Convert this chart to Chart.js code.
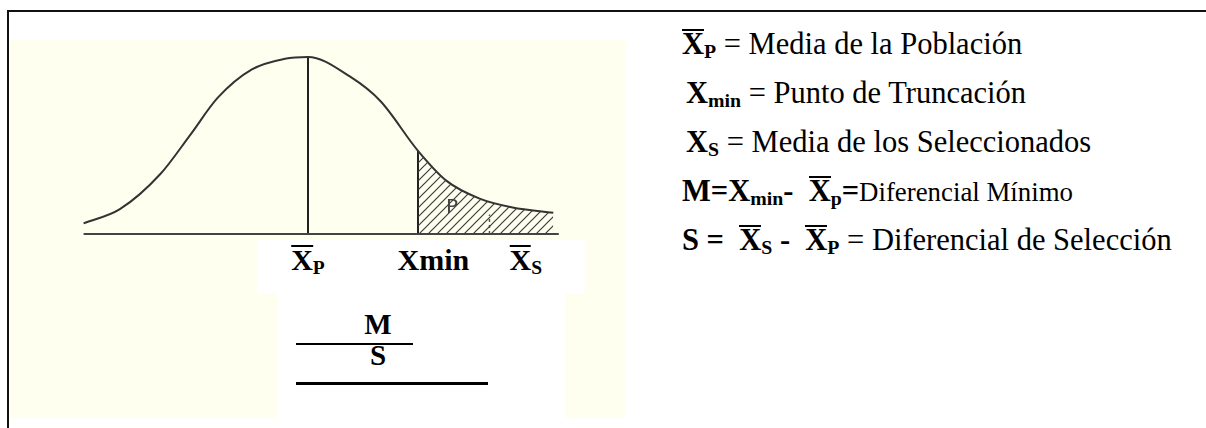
<!DOCTYPE html>
<html>
<head>
<meta charset="utf-8">
<script src="https://cdn.jsdelivr.net/npm/chart.js@4.4.1/dist/chart.umd.min.js"></script>
<style>
  body { margin: 0; width: 1206px; height: 428px; overflow: hidden; position: relative; background: #fff;
         font-family: "Liberation Serif", "DejaVu Serif", serif; color: #000; }
  #frame { position: absolute; left: 7px; top: 10px; width: 1210px; height: 430px;
           border-top: 2px solid #111; border-left: 2px solid #111; }
  #photo { position: absolute; left: 10px; top: 40px; width: 615px; height: 378px; background: #fffff0; }
  #plot { position: absolute; left: 10px; top: 40px; width: 615px; height: 378px; }
  .wb { position: absolute; background: #fff; }
  .lbl { position: absolute; font-weight: bold; font-size: 30px; white-space: nowrap; transform: translateX(-50%); }
  .row { position: absolute; left: 682px; font-size: 30.5px; white-space: nowrap; }
  .ov { display: inline-block; line-height: 0.75em; border-top: 2px solid #000; padding-top: 2px; }
  .sb { font-size: 0.65em; vertical-align: -0.2em; }
  .sm { font-size: 0.88em; }
  .frac { position: absolute; font-weight: bold; font-size: 29px; transform: translateX(-50%); }
  .rule { position: absolute; background: #000; }
</style>
</head>
<body>
<div id="frame"></div>
<div id="photo"></div>
<div id="plot"><canvas id="curve" width="615" height="378"></canvas></div>

<div class="wb" style="left:257px;top:240px;width:328px;height:53px"></div>
<div class="wb" style="left:277px;top:293px;width:288px;height:125px"></div>
<div id="labels"></div>

<div class="frac" style="left:378px;top:308px">M</div>
<div class="rule" style="left:296px;top:343px;width:117px;height:2px"></div>
<div class="frac" style="left:378px;top:339px">S</div>
<div class="rule" style="left:296px;top:382px;width:192px;height:3px"></div>

<div class="row" style="top:27px"><b><span class="ov">X</span><span class="sb">P</span></b> = Media de la Población</div>
<div class="row" style="top:76px;left:686px"><b>X<span class="sb">min</span></b> = Punto de Truncación</div>
<div class="row" style="top:125px;left:686px"><b>X<span class="sb">S</span></b> = Media de los Seleccionados</div>
<div class="row" style="top:174px"><b>M=X<span class="sb">min</span>- &nbsp;<span class="ov">X</span><span class="sb">p</span>=</b><span class="sm">Diferencial Mínimo</span></div>
<div class="row" style="top:223px"><b>S = &nbsp;<span class="ov">X</span><span class="sb">S</span> - &nbsp;<span class="ov">X</span><span class="sb">P</span></b> = Diferencial de Selección</div>

<script>
// curve: x in units of the population sd, y relative to the peak
const curveX = [-2.04, -1.71, -1.34, -1.07, -0.82, -0.51, -0.21, 0, 0.38, 0.66, 1.0, 1.26, 1.56, 1.86, 2.23];
const curveY = [0.06, 0.14, 0.34, 0.56, 0.77, 0.93, 0.99, 1.0, 0.89, 0.75, 0.47, 0.3, 0.2, 0.15, 0.12];
const axisX = [-2.04, 2.28];
const meanX = 0;
const truncX = 1.0;
const truncY = 0.47;
const markX = 1.65;
const markY = 0.11;
const tickAt = [0, 1.14, 1.98];
const tickMain = ['X', 'Xmin', 'X'];
const tickSub = ['P', '', 'S'];
const tickBar = [true, false, true];

function hatch() {
    const c = document.createElement('canvas');
    c.width = 9; c.height = 9;
    const g = c.getContext('2d');
    g.strokeStyle = '#3c3c3c';
    g.lineWidth = 1.2;
    g.beginPath();
    g.moveTo(0, 9); g.lineTo(9, 0);
    g.moveTo(-1, 1); g.lineTo(1, -1);
    g.moveTo(8, 10); g.lineTo(10, 8);
    g.stroke();
    return g.createPattern(c, 'repeat');
}

const pts = curveX.map((x, i) => ({ x: x, y: curveY[i] }));
const tailStart = curveX.indexOf(truncX);

const pLetter = {
    id: 'pLetter',
    afterDatasetsDraw(chart) {
        const ctx = chart.ctx;
        ctx.save();
        ctx.fillStyle = '#444';
        ctx.font = '20px "DejaVu Sans"';
        ctx.textAlign = 'center';
        ctx.textBaseline = 'middle';
        ctx.fillText('P', chart.scales.x.getPixelForValue(1.31), chart.scales.y.getPixelForValue(0.15));
        ctx.restore();
    }
};

const line = (data, extra) => Object.assign({
    data: data, showLine: true, pointRadius: 0, borderColor: '#2e2e2e', borderWidth: 2, fill: false
}, extra);

const chart = new Chart(document.getElementById('curve'), {
    type: 'scatter',
    data: {
        datasets: [
            line(pts.slice(tailStart), { borderWidth: 0, fill: 'origin', backgroundColor: hatch(), cubicInterpolationMode: 'monotone' }),
            line(pts, { cubicInterpolationMode: 'monotone', borderColor: '#333' }),
            line([{ x: axisX[0], y: 0 }, { x: axisX[1], y: 0 }], { borderColor: '#444' }),
            line([{ x: meanX, y: 0 }, { x: meanX, y: 1 }], { borderColor: '#222' }),
            line([{ x: truncX, y: 0 }, { x: truncX, y: truncY }], { borderColor: '#222' }),
            line([{ x: markX, y: 0 }, { x: markX, y: markY }], { borderColor: '#555', borderWidth: 1.5, borderDash: [3, 3] })
        ]
    },
    options: {
        responsive: false,
        animation: false,
        layout: { padding: 0 },
        plugins: { legend: { display: false }, tooltip: { enabled: false } },
        scales: {
            x: { type: 'linear', display: false, min: -2.709, max: 2.882 },
            y: { type: 'linear', display: false, min: -1.04, max: 1.096 }
        }
    },
    plugins: [pLetter]
});

// tick labels under the sketch, placed with the chart's own x scale
const holder = document.getElementById('labels');
tickAt.forEach((v, i) => {
    const d = document.createElement('div');
    d.className = 'lbl';
    d.style.left = (10 + chart.scales.x.getPixelForValue(v)) + 'px';
    d.style.top = '243px';
    const main = tickBar[i] ? '<span class="ov">' + tickMain[i] + '</span>' : tickMain[i];
    d.innerHTML = main + (tickSub[i] ? '<span class="sb">' + tickSub[i] + '</span>' : '');
    holder.appendChild(d);
});
</script>
</body>
</html>
